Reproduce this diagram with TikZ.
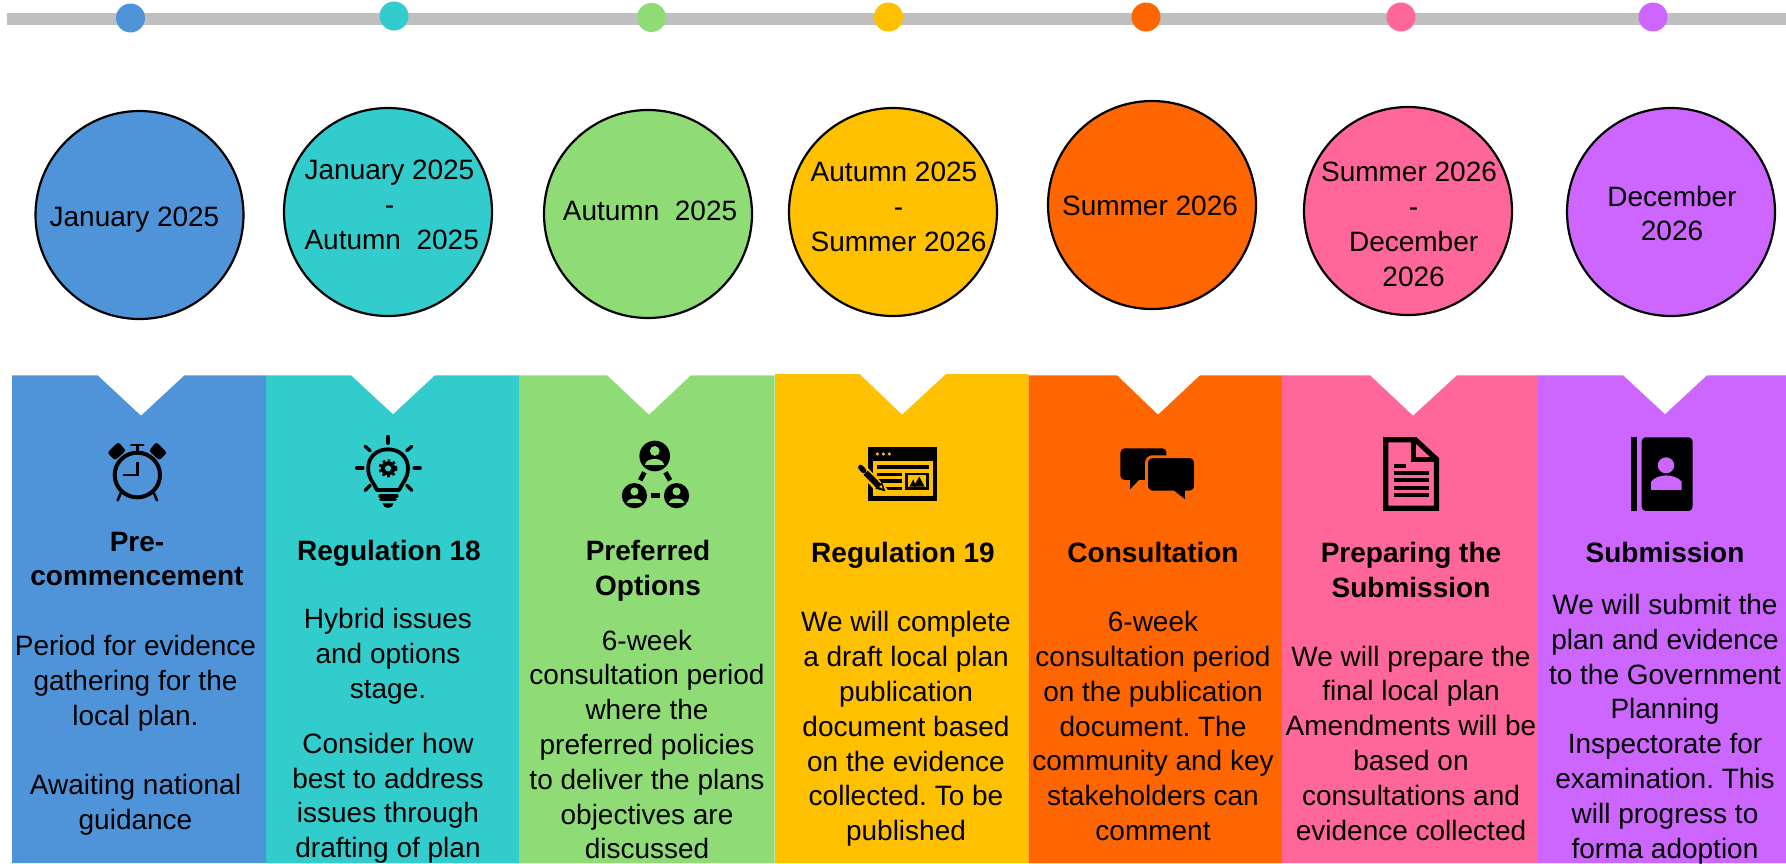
\documentclass[tikz,border=0pt]{standalone}
\usepackage{fontspec}
\setmainfont{Liberation Sans}
\frenchspacing
\definecolor{cblue}{HTML}{4F94D8}
\definecolor{cteal}{HTML}{33CCCC}
\definecolor{cgreen}{HTML}{8FDB76}
\definecolor{cyellow}{HTML}{FFC000}
\definecolor{corange}{HTML}{FF6600}
\definecolor{cpink}{HTML}{FF6699}
\definecolor{cpurple}{HTML}{CC66FF}
\tikzset{
  dotmark/.style={circle,minimum size=14.5pt,inner sep=0pt,fill=#1},
  datering/.style={circle,draw=black,line width=1.1pt,minimum size=104pt,inner sep=0pt,fill=#1},
  datetext/.style={align=center,inner sep=0pt,font=\fontsize{14}{17.4}\selectfont},
  titletext/.style={align=center,inner sep=0pt,font=\fontsize{14}{17.4}\selectfont\bfseries},
  bodytext/.style={align=center,inner sep=0pt,font=\fontsize{14}{17.4}\selectfont},
  iconline/.style={line width=#1,draw=black},
  iconzoomA/.style={shift={(0,360)},xscale=0.3827,yscale=0.3333},
  iconzoomB/.style={shift={(600,360)},xscale=0.3827,yscale=0.3333},
  iconzoomC/.style={shift={(1200,360)},xscale=0.3737,yscale=0.3333}
}
\newcommand{\personbadge}[4]{
  \fill [black] (#1,#2) ellipse (#3 and 1.148*#3);
  \fill [#4] (#1,#2-0.38*#3) ellipse (0.32*#3 and 0.37*#3);
  \fill [#4] (#1-0.62*#3,#2+0.68*#3) .. controls (#1-0.62*#3,#2+0.08*#3) and (#1+0.62*#3,#2+0.08*#3) .. (#1+0.62*#3,#2+0.68*#3) -- cycle;
}
\begin{document}
\begin{tikzpicture}[x=0.5pt,y=-0.5pt]
\useasboundingbox (0,0) rectangle (1786,863);
% timeline
\coordinate (barL) at (7,18.9);
\coordinate (barR) at (1786,18.9);
\draw [line width=6.15pt,draw=black!25] (barL) -- (barR);
\node [dotmark=cblue] (dot1) at (130.5,18) {};
\node [dotmark=cteal] (dot2) at (394,16) {};
\node [dotmark=cgreen] (dot3) at (651.5,17.5) {};
\node [dotmark=cyellow] (dot4) at (888.5,17) {};
\node [dotmark=corange] (dot5) at (1146,17) {};
\node [dotmark=cpink] (dot6) at (1401,17) {};
\node [dotmark=cpurple] (dot7) at (1653,17) {};
% date circles
\node [datering=cblue] (ring1) at (139.5,215) {};
\node [datering=cteal] (ring2) at (388,212) {};
\node [datering=cgreen] (ring3) at (648,214) {};
\node [datering=cyellow] (ring4) at (893,212) {};
\node [datering=corange] (ring5) at (1152,205) {};
\node [datering=cpink] (ring6) at (1408,211) {};
\node [datering=cpurple] (ring7) at (1671,212) {};
\node [datetext] (date1) at (134.5,219.5) {January 2025};
\node [datetext] (date2) at (389.5,205) {January 2025\\-\\\hspace*{2.2pt}Autumn\ \ 2025};
\node [datetext] (date3) at (650,211) {Autumn\ \ 2025};
\node [datetext] (date4) at (898.5,207) {Autumn 2025\hspace*{4.5pt}\\-\\Summer 2026};
\node [datetext] (date5) at (1150,206) {Summer 2026};
\node [datetext] (date6) at (1409,224.5) {Summer 2026\\\hspace*{4.6pt}-\\\hspace*{4.6pt}December\\\hspace*{4.6pt}2026};
\node [datetext] (date7) at (1672,213.5) {December\\2026};
% panels
\fill [cblue] (12,375.3) -- (97.6,375.3) -- (141,415.7) -- (184.5,375.3) -- (266,375.3) -- (266,863) -- (12,863) -- cycle;
\fill [cteal] (266,375.3) -- (351,375.3) -- (393,414.3) -- (435,375.3) -- (519,375.3) -- (519,863) -- (266,863) -- cycle;
\fill [cgreen] (519,375.3) -- (607,375.3) -- (649,414.7) -- (691,375.3) -- (774.5,375.3) -- (774.5,863) -- (519,863) -- cycle;
\fill [cyellow] (775,374) -- (859.5,374) -- (902,414.7) -- (946,374) -- (1028.6,374) -- (1028.6,863) -- (775,863) -- cycle;
\fill [corange] (1028.6,375.3) -- (1117,375.3) -- (1158,414.7) -- (1200,375.3) -- (1282,375.3) -- (1282,863) -- (1028.6,863) -- cycle;
\fill [cpink] (1282,375.3) -- (1370,375.3) -- (1413,415.7) -- (1457,375.3) -- (1537,375.3) -- (1537,863) -- (1282,863) -- cycle;
\fill [cpurple] (1537,375.3) -- (1623,375.3) -- (1665,414.3) -- (1707,375.3) -- (1786,375.3) -- (1786,863) -- (1537,863) -- cycle;
% clock
\begin{scope}[shift={(90,430)},scale=0.3333]
\draw [iconline=2pt] (142,135) ellipse (68 and 67);
\draw [iconline=1.3pt] (142,45) -- (142,65);
\draw [iconline=1.3pt,line cap=round] (124,45) -- (160,45);
\draw [iconline=1.2pt] (142,95) -- (142,135) -- (100,135);
\draw [iconline=1.3pt,line cap=round] (92,190) -- (83,211);
\draw [iconline=1.3pt,line cap=round] (192,190) -- (201,211);
\fill [black,rounded corners=1.2pt] (52,68) -- (85,36) -- (108,62) -- (75,91) -- cycle;
\fill [black,rounded corners=1.2pt] (231,68) -- (199,36) -- (177,62) -- (208,91) -- cycle;
\end{scope}
% bulb
\begin{scope}[iconzoomA]
\draw [iconline=1.9pt,line join=round] (985,390) .. controls (975,365) and (962,355) .. (962,325) .. controls (962,290) and (985,268) .. (1014,268) .. controls (1043,268) and (1066,290) .. (1066,325) .. controls (1066,355) and (1053,365) .. (1043,390) -- cycle;
\fill [black] (1014,325) ellipse (19 and 21);
\draw [iconline=1.4pt,dash pattern=on 1.3pt off 1.3pt] (1014,325) ellipse (21 and 23);
\fill [cteal] (1014,325) ellipse (8 and 9);
\draw [iconline=1.7pt,line cap=round] (1014,230) -- (1014,250);
\draw [iconline=1.7pt,line cap=round] (932,324) -- (948,324);
\draw [iconline=1.7pt,line cap=round] (1082,324) -- (1098,324);
\draw [iconline=1.7pt,line cap=round] (954,259) -- (967,272);
\draw [iconline=1.7pt,line cap=round] (1076,259) -- (1063,272);
\draw [iconline=1.7pt,line cap=round] (954,391) -- (967,376);
\draw [iconline=1.7pt,line cap=round] (1076,391) -- (1063,376);
\draw [iconline=1.7pt,line cap=round] (993,408) -- (1037,408);
\draw [iconline=1.7pt,line cap=round] (995,418) -- (1033,418);
\fill [black] (1000,430) -- (1028,430) arc (0:180:14) -- cycle;
\end{scope}
% people
\begin{scope}[iconzoomB]
\personbadge{143}{288}{40}{cgreen}
\personbadge{90}{407}{33}{cgreen}
\personbadge{200}{407}{33}{cgreen}
\draw [iconline=2.4pt] (116,337) -- (105,361);
\draw [iconline=2.4pt] (171,337) -- (183,361);
\draw [iconline=2.4pt] (134,407) -- (157,407);
\end{scope}
% window
\begin{scope}[shift={(840,430)},scale=0.3333]
\fill [black] (84,52) rectangle (292,214);
\fill [cyellow] (100,94) rectangle (278,198);
\fill [cyellow] (112,72) circle (5);
\fill [cyellow] (130,72) circle (5);
\fill [cyellow] (148,72) circle (5);
\fill [black] (110,106) rectangle (266,118);
\fill [black] (110,128) rectangle (186,138);
\fill [black] (110,148) rectangle (186,158);
\fill [black] (110,170) rectangle (186,180);
\fill [black] (196,128) rectangle (266,180);
\fill [cyellow] (204,136) rectangle (258,172);
\fill [black] (208,170) -- (220,148) -- (228,170) -- cycle;
\fill [black] (220,170) -- (238,140) -- (254,170) -- cycle;
\draw [iconline=5pt,draw=cyellow] (55,105) -- (132,188);
\draw [iconline=2.6pt,line cap=round] (62,112) -- (71,122);
\draw [iconline=3pt] (77,128) -- (118,170);
\fill [black] (106,176) -- (126,156) -- (136,184) -- cycle;
\fill [cyellow] (117,171) -- (124,165) -- (128,176) -- cycle;
\end{scope}
% bubbles
\begin{scope}[iconzoomB]
\fill [black,rounded corners=2pt] (1360,265) rectangle (1480,360);
\fill [black] (1385,355) -- (1385,388) -- (1412,355) -- cycle;
\draw [iconline=1.4pt,draw=corange,fill=black,rounded corners=3pt] (1428,290) rectangle (1556,396);
\fill [black] (1498,390) -- (1528,417) -- (1528,390) -- cycle;
\end{scope}
% document
\begin{scope}[iconzoomC]
\draw [iconline=2.6pt,line join=miter] (497,239) -- (576,239) -- (633,298) -- (633,445) -- (497,445) -- cycle;
\draw [iconline=2.6pt] (572,239) -- (572,298) -- (633,298);
\fill [black] (519,312) rectangle (551,324);
\fill [black] (519,333) rectangle (612,345);
\fill [black] (519,354) rectangle (612,366);
\fill [black] (519,377) rectangle (612,389);
\fill [black] (519,399) rectangle (612,411);
\end{scope}
% contact book
\begin{scope}[iconzoomC]
\fill [black] (1154,232) rectangle (1170,453);
\fill [black,rounded corners=2pt] (1182,232) rectangle (1318,453);
\fill [cpurple] (1247,316) ellipse (22 and 24);
\fill [cpurple] (1207,390) -- (1207,365) .. controls (1225,340) and (1270,340) .. (1289,365) -- (1289,390) -- cycle;
\end{scope}
% panel texts
\node [titletext] (title1) at (137,559) {Pre-\\commencement};
\node [bodytext] (body1) at (135.5,735.5) {Period for evidence\\gathering for the\\local plan.\\[17.4pt]Awaiting national\\guidance};
\node [titletext] (title2) at (389,553) {Regulation 18};
\node [bodytext] (body2) at (388,736) {Hybrid issues\\and options\\stage.\\[10pt]Consider how\\best to address\\issues through\\drafting of plan};
\node [titletext] (title3) at (648,570.5) {Preferred\\Options};
\node [bodytext] (body3) at (647,744.5) {6-week\\consultation period\\where the\\preferred policies\\to deliver the plans\\objectives are\\discussed};
\node [titletext] (title4) at (903,555) {Regulation 19};
\node [bodytext] (body4) at (906,729) {We will complete\\a draft local plan\\publication\\document based\\on the evidence\\collected. To be\\published};
\node [titletext] (title5) at (1153,552) {Consultation};
\node [bodytext] (body5) at (1153,726) {6-week\\consultation period\\on the publication\\document. The\\community and key\\stakeholders can\\comment};
\node [titletext] (title6) at (1411,570) {Preparing the\\Submission};
\node [bodytext] (body6) at (1411,743) {We will prepare the\\final local plan\\Amendments will be\\based on\\consultations and\\evidence collected};
\node [titletext] (title7) at (1665,552) {Submission};
\node [bodytext] (body7) at (1665,729) {We will submit the\\plan and evidence\\to the Government\\Planning\\Inspectorate for\\examination. This\\will progress to\\forma adoption};
\end{tikzpicture}
\end{document}
